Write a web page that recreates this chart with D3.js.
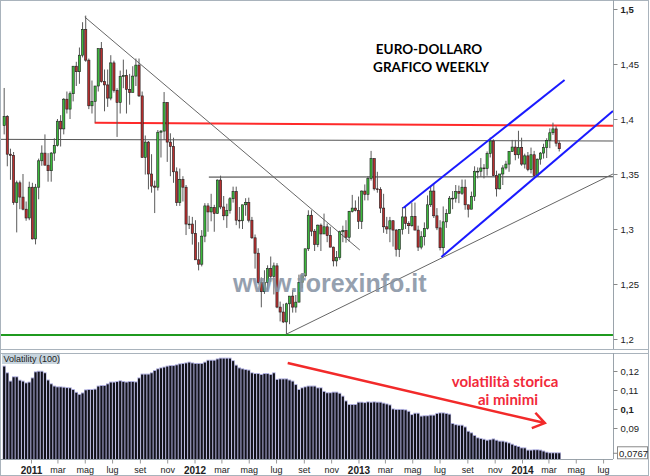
<!DOCTYPE html>
<html>
<head>
<meta charset="utf-8">
<script src="https://cdn.jsdelivr.net/npm/d3@7"></script>
<style>
  body { margin: 0; background: #fff; }
  svg { display: block; }
</style>
</head>
<body>
<div id="chart"></div>
<script>
// weekly EUR/USD candles, [open, high, low, close], one per week from 1 Nov 2010
const candles = [
  [1.3940,1.4282,1.3860,1.4023],[1.4023,1.4035,1.3570,1.3680],[1.3680,1.3730,1.3447,1.3670],[1.3670,1.3700,1.3220,1.3240],
  [1.3240,1.3440,1.2969,1.3420],[1.3420,1.3440,1.3180,1.3290],[1.3290,1.3500,1.3170,1.3180],[1.3180,1.3250,1.3075,1.3100],
  [1.3100,1.3430,1.3080,1.3380],[1.3380,1.3420,1.2905,1.2910],[1.2910,1.3410,1.2860,1.3380],[1.3380,1.3640,1.3270,1.3620],
  [1.3620,1.3760,1.3575,1.3690],[1.3690,1.3860,1.3580,1.3580],[1.3580,1.3690,1.3430,1.3530],[1.3530,1.3700,1.3430,1.3690],
  [1.3690,1.3825,1.3620,1.3760],[1.3760,1.4000,1.3750,1.3980],[1.3980,1.4035,1.3750,1.3910],[1.3910,1.4190,1.3860,1.4180],
  [1.4180,1.4250,1.4050,1.4090],[1.4090,1.4250,1.4000,1.4230],[1.4230,1.4480,1.4160,1.4480],[1.4480,1.4520,1.4300,1.4430],
  [1.4430,1.4650,1.4320,1.4580],[1.4580,1.4880,1.4560,1.4815],[1.4815,1.4940,1.4520,1.4535],[1.4535,1.4550,1.4090,1.4120],
  [1.4120,1.4350,1.4050,1.4160],[1.4160,1.4290,1.3968,1.4300],[1.4300,1.4640,1.4250,1.4640],[1.4640,1.4700,1.4330,1.4340],
  [1.4340,1.4450,1.4070,1.4310],[1.4310,1.4450,1.4110,1.4190],[1.4190,1.4580,1.4170,1.4510],[1.4510,1.4530,1.4240,1.4260],
  [1.4260,1.4280,1.3837,1.4150],[1.4150,1.4440,1.4050,1.4385],[1.4385,1.4540,1.4280,1.4395],[1.4395,1.4450,1.4050,1.4270],
  [1.4270,1.4410,1.4130,1.4240],[1.4240,1.4480,1.4260,1.4390],[1.4390,1.4550,1.4300,1.4490],[1.4490,1.4550,1.4200,1.4210],
  [1.4210,1.4250,1.3650,1.3650],[1.3650,1.3850,1.3495,1.3790],[1.3790,1.3800,1.3360,1.3500],[1.3500,1.3680,1.3330,1.3390],
  [1.3390,1.3440,1.3145,1.3380],[1.3380,1.3900,1.3350,1.3880],[1.3880,1.3900,1.3650,1.3890],[1.3890,1.4245,1.3810,1.4150],
  [1.4150,1.4150,1.3610,1.3790],[1.3790,1.3870,1.3480,1.3750],[1.3750,1.3830,1.3420,1.3520],[1.3520,1.3560,1.3210,1.3240],
  [1.3240,1.3550,1.3210,1.3450],[1.3450,1.3480,1.3250,1.3380],[1.3380,1.3400,1.2945,1.3045],[1.3045,1.3120,1.3000,1.3045],
  [1.3045,1.3110,1.2858,1.2960],[1.2960,1.3080,1.2730,1.2720],[1.2720,1.2880,1.2624,1.2680],[1.2680,1.2990,1.2660,1.2935],
  [1.2935,1.3235,1.2880,1.3210],[1.3210,1.3235,1.2975,1.3155],[1.3155,1.3320,1.3070,1.3195],[1.3195,1.3220,1.2975,1.3140],
  [1.3140,1.3450,1.3140,1.3445],[1.3445,1.3485,1.3180,1.3200],[1.3200,1.3300,1.3080,1.3120],[1.3120,1.3230,1.3010,1.3170],
  [1.3170,1.3290,1.3140,1.3275],[1.3275,1.3385,1.3240,1.3340],[1.3340,1.3385,1.3035,1.3080],[1.3080,1.3200,1.3005,1.3075],
  [1.3075,1.3220,1.3000,1.3220],[1.3220,1.3280,1.3120,1.3240],[1.3240,1.3285,1.3060,1.3080],[1.3080,1.3110,1.2910,1.2920],
  [1.2920,1.2950,1.2640,1.2780],[1.2780,1.2825,1.2495,1.2515],[1.2515,1.2560,1.2288,1.2430],[1.2430,1.2625,1.2410,1.2515],
  [1.2515,1.2670,1.2440,1.2640],[1.2640,1.2750,1.2520,1.2570],[1.2570,1.2695,1.2405,1.2665],[1.2665,1.2690,1.2280,1.2290],
  [1.2290,1.2340,1.2160,1.2245],[1.2245,1.2320,1.2145,1.2155],[1.2155,1.2330,1.2042,1.2320],[1.2320,1.2390,1.2135,1.2390],
  [1.2390,1.2445,1.2240,1.2290],[1.2290,1.2400,1.2240,1.2335],[1.2335,1.2585,1.2335,1.2515],[1.2515,1.2600,1.2460,1.2575],
  [1.2575,1.2820,1.2560,1.2820],[1.2820,1.3170,1.2800,1.3125],[1.3125,1.3170,1.2935,1.2980],[1.2980,1.3000,1.2800,1.2860],
  [1.2860,1.3040,1.2835,1.3035],[1.3035,1.3050,1.2800,1.2955],[1.2955,1.3140,1.2955,1.3020],[1.3020,1.3050,1.2880,1.2940],
  [1.2940,1.3020,1.2835,1.2835],[1.2835,1.2840,1.2660,1.2710],[1.2710,1.2800,1.2660,1.2740],[1.2740,1.2985,1.2720,1.2975],
  [1.2975,1.3030,1.2880,1.2985],[1.2985,1.3080,1.2875,1.2925],[1.2925,1.3165,1.2885,1.3160],[1.3160,1.3310,1.3150,1.3190],
  [1.3190,1.3260,1.3160,1.3170],[1.3170,1.3295,1.3000,1.3070],[1.3070,1.3350,1.3000,1.3345],[1.3345,1.3405,1.3260,1.3315],
  [1.3315,1.3480,1.3260,1.3460],[1.3460,1.3710,1.3440,1.3640],[1.3640,1.3640,1.3350,1.3365],[1.3365,1.3520,1.3330,1.3360],
  [1.3360,1.3380,1.3145,1.3190],[1.3190,1.3320,1.2965,1.3020],[1.3020,1.3110,1.2955,1.3000],[1.3000,1.3110,1.2880,1.3075],
  [1.3075,1.3080,1.2840,1.2990],[1.2990,1.3000,1.2750,1.2815],[1.2815,1.3000,1.2745,1.2995],[1.2995,1.3200,1.2950,1.3110],
  [1.3110,1.3200,1.3000,1.3050],[1.3050,1.3070,1.2955,1.3030],[1.3030,1.3240,1.3020,1.3115],[1.3115,1.3240,1.2990,1.2990],
  [1.2990,1.3030,1.2800,1.2835],[1.2835,1.2980,1.2815,1.2930],[1.2930,1.3060,1.2850,1.3005],[1.3005,1.3305,1.2995,1.3220],
  [1.3220,1.3390,1.3200,1.3345],[1.3345,1.3415,1.3100,1.3120],[1.3120,1.3190,1.2990,1.3010],[1.3010,1.3080,1.2805,1.2830],
  [1.2830,1.3205,1.2755,1.3065],[1.3065,1.3180,1.3010,1.3140],[1.3140,1.3300,1.3140,1.3280],[1.3280,1.3345,1.3180,1.3280],
  [1.3280,1.3400,1.3240,1.3340],[1.3340,1.3395,1.3235,1.3325],[1.3325,1.3450,1.3310,1.3380],[1.3380,1.3450,1.3175,1.3220],
  [1.3220,1.3220,1.3105,1.3180],[1.3180,1.3340,1.3180,1.3295],[1.3295,1.3570,1.3255,1.3525],[1.3525,1.3560,1.3460,1.3525],
  [1.3525,1.3645,1.3475,1.3555],[1.3555,1.3590,1.3460,1.3550],[1.3550,1.3705,1.3485,1.3685],[1.3685,1.3832,1.3650,1.3800],
  [1.3800,1.3815,1.3480,1.3485],[1.3485,1.3530,1.3295,1.3365],[1.3365,1.3495,1.3360,1.3500],[1.3500,1.3580,1.3400,1.3555],
  [1.3555,1.3620,1.3540,1.3590],[1.3590,1.3705,1.3520,1.3705],[1.3705,1.3810,1.3700,1.3745],[1.3745,1.3810,1.3625,1.3675],
  [1.3675,1.3893,1.3640,1.3742],[1.3742,1.3830,1.3575,1.3590],[1.3590,1.3685,1.3550,1.3665],[1.3665,1.3700,1.3525,1.3540],
  [1.3540,1.3740,1.3505,1.3675],[1.3675,1.3710,1.3485,1.3485],[1.3485,1.3640,1.3477,1.3635],[1.3635,1.3700,1.3585,1.3690],
  [1.3690,1.3775,1.3640,1.3740],[1.3740,1.3825,1.3645,1.3805],[1.3805,1.3915,1.3735,1.3875],[1.3875,1.3967,1.3855,1.3910],
  [1.3910,1.3935,1.3750,1.3780],[1.3780,1.3805,1.3705,1.3730]
];

// Volatility (100), one value per week
const volatility = [
  0.1223,0.1188,0.1144,0.1167,0.1167,0.1149,0.1144,0.1135,0.1139,0.1161,
  0.1193,0.1196,0.1196,0.1188,0.1150,0.1130,0.1118,0.1114,0.1114,0.1112,
  0.1110,0.1109,0.1100,0.1085,0.1074,0.1082,0.1098,0.1100,0.1100,0.1102,
  0.1118,0.1121,0.1121,0.1130,0.1139,0.1139,0.1142,0.1146,0.1142,0.1139,
  0.1142,0.1142,0.1140,0.1161,0.1181,0.1181,0.1181,0.1188,0.1200,0.1209,
  0.1214,0.1218,0.1223,0.1226,0.1226,0.1230,0.1235,0.1237,0.1240,0.1244,
  0.1240,0.1237,0.1237,0.1237,0.1244,0.1254,0.1254,0.1254,0.1261,0.1265,
  0.1265,0.1265,0.1265,0.1252,0.1228,0.1214,0.1209,0.1205,0.1202,0.1188,
  0.1184,0.1184,0.1179,0.1184,0.1184,0.1179,0.1188,0.1153,0.1156,0.1156,
  0.1156,0.1150,0.1144,0.1126,0.1100,0.1109,0.1114,0.1118,0.1118,0.1118,
  0.1109,0.1109,0.1090,0.1083,0.1083,0.1086,0.1086,0.1080,0.1065,0.1040,
  0.1021,0.1021,0.1021,0.1033,0.1033,0.1031,0.1035,0.1033,0.1035,0.1033,
  0.1033,0.1028,0.1024,0.1019,0.0998,0.0995,0.0995,0.0995,0.0993,0.0985,
  0.0968,0.0975,0.0975,0.0960,0.0962,0.0962,0.0965,0.0965,0.0974,0.0977,
  0.0977,0.0974,0.0970,0.0921,0.0915,0.0912,0.0912,0.0903,0.0880,0.0872,
  0.0858,0.0846,0.0842,0.0838,0.0833,0.0836,0.0840,0.0833,0.0828,0.0828,
  0.0824,0.0819,0.0812,0.0805,0.0800,0.0793,0.0793,0.0781,0.0781,0.0783,
  0.0783,0.0781,0.0776,0.0770,0.0767,0.0767,0.0767,0.0767
];

const priceTicks = [1.2, 1.25, 1.3, 1.35, 1.4, 1.45, 1.5];
const volTicks = [0.09, 0.1, 0.11, 0.12];
const lastVol = 0.0767;
const monthNames = ["gen","feb","mar","apr","mag","giu","lug","ago","set","ott","nov","dic"];

// drawn lines: [date, price]
const redLine      = [["2011-05-23", 1.3966], ["2014-07-23", 1.3938]];
const blackLineHi  = [["2010-10-24", 1.3815], ["2014-07-23", 1.3800]];
const blackLineLo  = [["2012-02-02", 1.3472], ["2014-07-23", 1.3475]];
const greenLine    = [["2010-10-24", 1.2036], ["2014-07-23", 1.2036]];
const downTrend    = [["2011-05-01", 1.4927], ["2013-01-04", 1.2809]];
const upTrend      = [["2012-07-23", 1.2042], ["2014-07-23", 1.3500]];
const channelTop   = [["2013-04-11", 1.3191], ["2014-04-06", 1.4355]];
const channelBot   = [["2013-07-05", 1.2745], ["2014-07-23", 1.4073]];
const volArrow     = [["2012-07-27", 0.1242], ["2014-02-21", 0.0926]];

const parse = d3.timeParse("%Y-%m-%d");
const weeks = d3.timeMonday.range(new Date(2010, 10, 1), new Date(2014, 2, 25));

const W = 650, H = 476;
const plotRight = 613, mainBottom = 349, volTop = 353, volBase = 459;

const svg = d3.select("#chart").append("svg")
  .attr("width", W).attr("height", H)
  .style("font-family", "'Liberation Sans', Arial, sans-serif");

const x = d3.scaleTime()
  .domain([new Date(2011, 0, 1), new Date(2014, 0, 1)])
  .range([31, 522]);
const y = d3.scaleLinear().domain([1.2, 1.5]).range([339, 9]);
const yv = d3.scaleLinear().domain([0.09, 0.12]).range([428, 371]);

svg.append("defs").append("clipPath").attr("id", "mainClip")
  .append("rect").attr("x", 1).attr("y", 1).attr("width", plotRight - 1).attr("height", mainBottom - 1);

// frames
svg.append("rect").attr("x", 0.5).attr("y", 0.5).attr("width", 648).attr("height", 475)
  .attr("fill", "none").attr("stroke", "#a9b3bc");
svg.append("line").attr("x1", 0).attr("x2", 649).attr("y1", mainBottom + 0.5).attr("y2", mainBottom + 0.5)
  .attr("stroke", "#a9b3bc");
svg.append("line").attr("x1", 0).attr("x2", 649).attr("y1", volTop + 0.5).attr("y2", volTop + 0.5)
  .attr("stroke", "#a9b3bc");

const main = svg.append("g").attr("clip-path", "url(#mainClip)");

const line = d3.line().x(d => x(parse(d[0]))).y(d => y(d[1]));

function drawLine(pts, color, width) {
  main.append("path").datum(pts)
    .attr("fill", "none").attr("stroke", color).attr("stroke-width", width)
    .attr("d", line);
}

drawLine(greenLine, "#1f9a1f", 2);
drawLine(blackLineHi, "#555", 1);
drawLine(blackLineLo, "#333", 1);
drawLine(redLine, "#ff2a2a", 2);
drawLine(downTrend, "#666", 1);
drawLine(upTrend, "#666", 1);

// candles
const bw = 2.2;
const candle = main.append("g").selectAll("g")
  .data(candles)
  .join("g");
candle.append("line")
  .attr("x1", (d, i) => x(weeks[i]) + 0.5).attr("x2", (d, i) => x(weeks[i]) + 0.5)
  .attr("y1", d => y(d[1])).attr("y2", d => y(d[2]))
  .attr("stroke", "#5a5a5a").attr("stroke-width", 1);
candle.append("rect")
  .attr("x", (d, i) => x(weeks[i]) + 0.5 - bw / 2)
  .attr("width", bw)
  .attr("y", d => y(Math.max(d[0], d[3])))
  .attr("height", d => Math.max(0.8, Math.abs(y(d[0]) - y(d[3]))))
  .attr("fill", d => d[3] >= d[0] ? "#3cb93c" : "#b83030")
  .attr("stroke", "#1e1e1e").attr("stroke-width", 0.6);

drawLine(channelTop, "#1a1aff", 2);
drawLine(channelBot, "#1a1aff", 2);

// watermark
main.append("text")
  .attr("x", 233).attr("y", 292)
  .attr("font-size", 25).attr("font-weight", "bold")
  .attr("fill", "#8794a4").attr("opacity", 0.88)
  .text("www.forexinfo.it");

// title
const title = svg.append("g")
  .attr("font-family", "Lato, 'Open Sans', sans-serif")
  .attr("font-weight", "bold").attr("font-size", 13.5)
  .attr("text-anchor", "middle").attr("fill", "#000");
title.append("text").attr("x", 429).attr("y", 53.5).text("EURO-DOLLARO");
title.append("text").attr("x", 431).attr("y", 72).text("GRAFICO WEEKLY");

// price axis
svg.append("line").attr("x1", plotRight + 0.5).attr("x2", plotRight + 0.5)
  .attr("y1", 0).attr("y2", mainBottom).attr("stroke", "#9aa3ab");
const pAxis = svg.append("g")
  .attr("transform", `translate(${plotRight + 0.5},0)`)
  .call(d3.axisRight(y).tickValues(priceTicks).tickSize(4)
    .tickFormat(d => String(+d.toFixed(2)).replace(".", ",")));
pAxis.select(".domain").remove();
pAxis.selectAll("line").attr("stroke", "#888");
pAxis.selectAll("text").attr("font-size", 9.5).attr("fill", "#222")
  .attr("font-family", "'Liberation Sans', Arial, sans-serif")
  .attr("font-weight", d => d === 1.5 ? "bold" : "normal");

// volatility panel
const volG = svg.append("g");
volG.selectAll("rect.bg")
  .data(volatility)
  .join("rect").attr("class", "bg")
  .attr("x", (d, i) => x(weeks[i]) + 0.5 - 1.6)
  .attr("width", 3.2)
  .attr("y", d => yv(d) - 1)
  .attr("height", d => volBase - yv(d) + 1)
  .attr("fill", "#aeaedc");
volG.selectAll("rect.bar")
  .data(volatility)
  .join("rect").attr("class", "bar")
  .attr("x", (d, i) => x(weeks[i]) + 0.5 - 1.05)
  .attr("width", 2.1)
  .attr("y", d => yv(d))
  .attr("height", d => volBase - yv(d))
  .attr("fill", "#12121a");

// label box
svg.append("rect").attr("x", 2).attr("y", 354).attr("width", 58).attr("height", 10)
  .attr("fill", "#c8d5de");
svg.append("text").attr("x", 3.5).attr("y", 362.3)
  .attr("font-size", 9).attr("fill", "#222").text("Volatility (100)");

// red arrow
const ax1 = x(parse(volArrow[0][0])), ay1 = yv(volArrow[0][1]);
const ax2 = x(parse(volArrow[1][0])), ay2 = yv(volArrow[1][1]);
const ang = Math.atan2(ay2 - ay1, ax2 - ax1);
const arm = 14, spread = 0.6;
svg.append("path")
  .attr("d", `M${ax1},${ay1}L${ax2},${ay2}` +
    `M${ax2 - arm * Math.cos(ang - spread)},${ay2 - arm * Math.sin(ang - spread)}L${ax2},${ay2}` +
    `L${ax2 - arm * Math.cos(ang + spread)},${ay2 - arm * Math.sin(ang + spread)}`)
  .attr("fill", "none").attr("stroke", "#f22a2a").attr("stroke-width", 2.5)
  .attr("stroke-linejoin", "miter");

const note = svg.append("g")
  .attr("font-family", "Lato, 'Open Sans', sans-serif")
  .attr("font-weight", "bold").attr("font-size", 15)
  .attr("text-anchor", "middle").attr("fill", "#f22a3a");
note.append("text").attr("x", 505).attr("y", 387).text("volatilità storica");
note.append("text").attr("x", 508).attr("y", 405).text("ai minimi");

// volatility axis
svg.append("line").attr("x1", plotRight + 0.5).attr("x2", plotRight + 0.5)
  .attr("y1", volTop).attr("y2", volBase).attr("stroke", "#9aa3ab");
const vAxis = svg.append("g")
  .attr("transform", `translate(${plotRight + 0.5},0)`)
  .call(d3.axisRight(yv).tickValues(volTicks).tickSize(4)
    .tickFormat(d => String(+d.toFixed(2)).replace(".", ",")));
vAxis.select(".domain").remove();
vAxis.selectAll("line").attr("stroke", "#888");
vAxis.selectAll("text").attr("font-size", 9.5).attr("fill", "#222")
  .attr("font-family", "'Liberation Sans', Arial, sans-serif")
  .attr("font-weight", d => d === 0.1 ? "bold" : "normal");

svg.append("line").attr("x1", plotRight).attr("x2", plotRight + 4)
  .attr("y1", yv(lastVol)).attr("y2", yv(lastVol)).attr("stroke", "#888");
svg.append("rect").attr("x", 617.5).attr("y", yv(lastVol) - 6.5).attr("width", 30).attr("height", 12)
  .attr("fill", "#fff").attr("stroke", "#8a8a8a");
svg.append("text").attr("x", 619).attr("y", yv(lastVol) + 3.5)
  .attr("font-size", 9.5).attr("fill", "#222")
  .text(String(lastVol).replace(".", ","));

// time axis
svg.append("line").attr("x1", 0).attr("x2", plotRight).attr("y1", volBase + 0.5).attr("y2", volBase + 0.5)
  .attr("stroke", "#9aa3ab");
const monthTicks = d3.timeMonth.every(2).range(new Date(2011, 0, 1), new Date(2014, 7, 1));
const tAxis = svg.append("g")
  .attr("transform", `translate(0,${volBase + 0.5})`)
  .call(d3.axisBottom(x).tickValues(monthTicks).tickSize(4)
    .tickFormat(d => d.getMonth() === 0 ? d.getFullYear() : monthNames[d.getMonth()]));
tAxis.select(".domain").remove();
tAxis.selectAll("line").attr("stroke", "#999");
tAxis.selectAll("text")
  .attr("font-family", "'Liberation Sans', Arial, sans-serif")
  .attr("fill", "#222")
  .attr("font-size", d => d.getMonth() === 0 ? 10 : 9)
  .attr("font-weight", d => d.getMonth() === 0 ? "bold" : "normal");
</script>
</body>
</html>
